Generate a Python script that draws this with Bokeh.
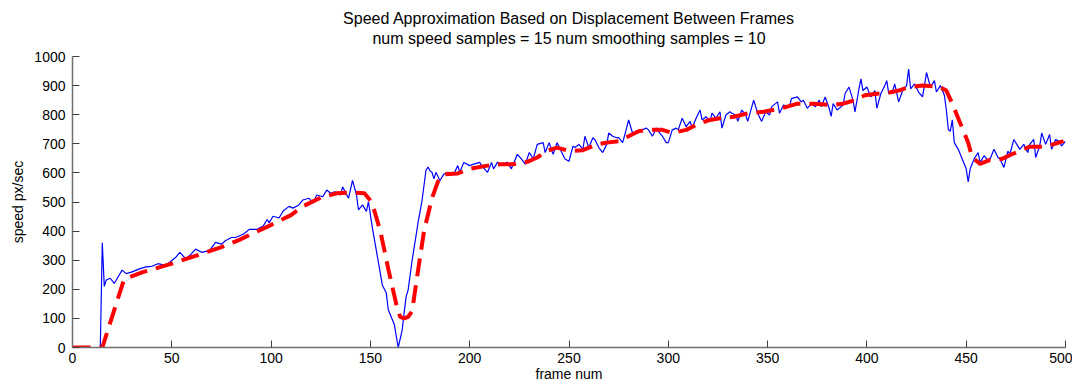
from bokeh.plotting import figure
from bokeh.models import Range1d, FixedTicker, Title
from bokeh.embed import file_html
from bokeh.resources import INLINE

title_line1 = "Speed Approximation Based on Displacement Between Frames"
title_line2 = "num speed samples = 15 num smoothing samples = 10"
x_label = "frame num"
y_label = "speed px/sec"
x_ticks = [0, 50, 100, 150, 200, 250, 300, 350, 400, 450, 500]
y_ticks = [0, 100, 200, 300, 400, 500, 600, 700, 800, 900, 1000]

blue_frames = [0, 14, 15, 16, 17, 19, 21, 23, 25, 27, 30, 34, 37, 40, 43, 47, 50, 52, 54, 57,
               59, 62, 65, 69, 72, 75, 77, 80, 82, 86, 89, 93, 96, 98, 99, 101, 104, 106, 109, 111,
               114, 116, 119, 121, 123, 126, 128, 130, 132, 135, 136, 139, 141, 143, 144, 146, 148, 149, 151, 153,
               156, 158, 159, 162, 164, 165, 166, 167, 168, 169, 171, 173, 174, 176, 178, 179, 180, 181, 182, 183,
               185, 187, 189, 192, 194, 195, 197, 200, 202, 205, 206, 209, 211, 212, 214, 216, 219, 221, 223, 224,
               226, 228, 230, 232, 234, 237, 238, 240, 242, 244, 246, 248, 250, 252, 253, 255, 257, 258, 260, 262,
               263, 265, 267, 269, 270, 272, 274, 275, 277, 279, 280, 282, 285, 289, 290, 292, 294, 295, 297, 299,
               300, 302, 304, 305, 307, 309, 311, 312, 314, 316, 317, 319, 321, 322, 324, 326, 327, 329, 331, 332,
               334, 335, 337, 339, 340, 343, 345, 347, 349, 351, 352, 355, 356, 358, 361, 362, 365, 367, 368, 370,
               372, 374, 376, 377, 379, 381, 382, 383, 385, 388, 389, 391, 393, 394, 396, 397, 398, 400, 402, 404,
               405, 407, 409, 410, 411, 413, 414, 416, 418, 420, 421, 422, 424, 426, 428, 429, 430, 432, 434, 435,
               437, 439, 440, 441, 442, 443, 444, 446, 448, 450, 451, 452, 454, 456, 457, 459, 461, 462, 464, 466,
               467, 469, 471, 472, 474, 476, 477, 479, 481, 482, 484, 485, 487, 488, 490, 492, 493, 495, 497, 498,
               500]
blue_speed = [0, 0, 360, 210, 232, 238, 220, 243, 266, 254, 260, 271, 277, 279, 288, 282, 299, 310, 327, 305,
              316, 338, 327, 333, 361, 355, 367, 378, 378, 389, 406, 406, 417, 440, 429, 451, 445, 468, 485, 479,
              490, 507, 513, 496, 524, 518, 541, 530, 535, 524, 552, 513, 574, 524, 473, 490, 468, 501, 411, 333,
              215, 187, 130, 80, 0, 30, 60, 120, 175, 198, 299, 385, 430, 505, 610, 620, 607, 602, 580, 602,
              574, 596, 602, 596, 625, 602, 636, 625, 630, 636, 625, 602, 636, 614, 636, 630, 636, 614, 648, 664,
              648, 630, 670, 648, 698, 704, 670, 704, 664, 704, 675, 648, 640, 692, 687, 698, 681, 726, 687, 721,
              715, 687, 670, 698, 737, 726, 721, 721, 704, 754, 782, 737, 743, 754, 748, 726, 754, 743, 726, 704,
              704, 748, 754, 748, 788, 759, 777, 754, 788, 816, 782, 793, 777, 805, 788, 810, 754, 799, 810, 805,
              799, 777, 816, 799, 777, 850, 805, 777, 810, 799, 827, 844, 805, 833, 827, 855, 861, 844, 850, 822,
              838, 827, 850, 827, 861, 822, 794, 838, 816, 833, 872, 895, 850, 810, 889, 923, 883, 895, 861, 883,
              822, 872, 900, 917, 872, 883, 906, 844, 883, 900, 957, 889, 906, 878, 861, 900, 945, 895, 917, 878,
              900, 867, 816, 749, 743, 782, 704, 681, 648, 614, 569, 614, 648, 670, 636, 659, 642, 648, 681, 653,
              648, 619, 675, 664, 715, 692, 681, 698, 670, 698, 715, 653, 692, 737, 698, 732, 681, 715, 709, 692,
              709]

red_frames = [0, 15, 26, 35, 50, 65, 75, 84, 99, 110, 116, 125, 133, 141, 147, 150, 152, 155, 159, 163,
              165, 167, 169, 171, 174, 177, 181, 184, 187, 194, 200, 209, 216, 222, 229, 234, 239, 244, 250, 257,
              264, 269, 275, 280, 285, 290, 297, 302, 309, 316, 321, 326, 333, 340, 348, 357, 365, 373, 382, 388,
              394, 399, 405, 412, 416, 421, 428, 436, 440, 443, 447, 451, 453, 457, 462, 468, 473, 482, 490, 499]
red_speed = [0, 0, 235, 258, 288, 322, 345, 370, 418, 455, 485, 515, 530, 533, 530, 505, 470, 400, 270, 150,
             105, 100, 105, 125, 265, 400, 513, 570, 595, 598, 614, 625, 630, 630, 638, 653, 676, 687, 675, 678,
             698, 704, 709, 726, 743, 748, 748, 737, 748, 771, 782, 788, 793, 805, 810, 822, 838, 838, 833, 838,
             850, 867, 872, 877, 883, 895, 900, 897, 883, 838, 771, 704, 653, 631, 645, 648, 664, 690, 690, 709]

FONT = "Liberation Sans"

p = figure(width=1072, height=384, output_backend="svg", toolbar_location=None,
           x_range=Range1d(0, 500), y_range=Range1d(0, 1000),
           min_border_left=72, min_border_right=7, min_border_top=56, min_border_bottom=36,
           background_fill_color="white", border_fill_color="white")
p.title.visible = False

p.add_layout(Title(text=title_line1 + "\n" + title_line2, align="center", text_align="center",
                   vertical_align="top", text_font=FONT, text_font_size="16px",
                   text_font_style="normal", text_color="#000000", standoff=16,
                   text_line_height=1.2), "above")

p.line(blue_frames, blue_speed, line_color="#0000ff", line_width=1.2)
p.line(red_frames, red_speed, line_color="#ff0000", line_width=4, line_dash="18 9")

p.xgrid.visible = False
p.ygrid.visible = False
p.outline_line_color = None

p.xaxis.ticker = FixedTicker(ticks=x_ticks)
p.yaxis.ticker = FixedTicker(ticks=y_ticks)
p.xaxis.axis_label = x_label
p.yaxis.axis_label = y_label
for ax in (p.xaxis, p.yaxis):
    ax.axis_line_color = "#707070"
    ax.axis_line_width = 1.5
    ax.major_tick_line_color = "#404040"
    ax.major_tick_in = 7
    ax.major_tick_out = 0
    ax.minor_tick_in = 0
    ax.minor_tick_out = 0
    ax.major_label_text_font = FONT
    ax.major_label_text_font_size = "14px"
    ax.major_label_text_color = "#000000"
    ax.axis_label_text_font = FONT
    ax.axis_label_text_font_size = "14px"
    ax.axis_label_text_font_style = "normal"
    ax.axis_label_text_color = "#000000"
p.xaxis.major_label_standoff = 5
p.xaxis.axis_label_standoff = 0
p.yaxis.major_label_standoff = 7
p.yaxis.axis_label_standoff = 5

open("out.html", "w").write(file_html(p, INLINE))
